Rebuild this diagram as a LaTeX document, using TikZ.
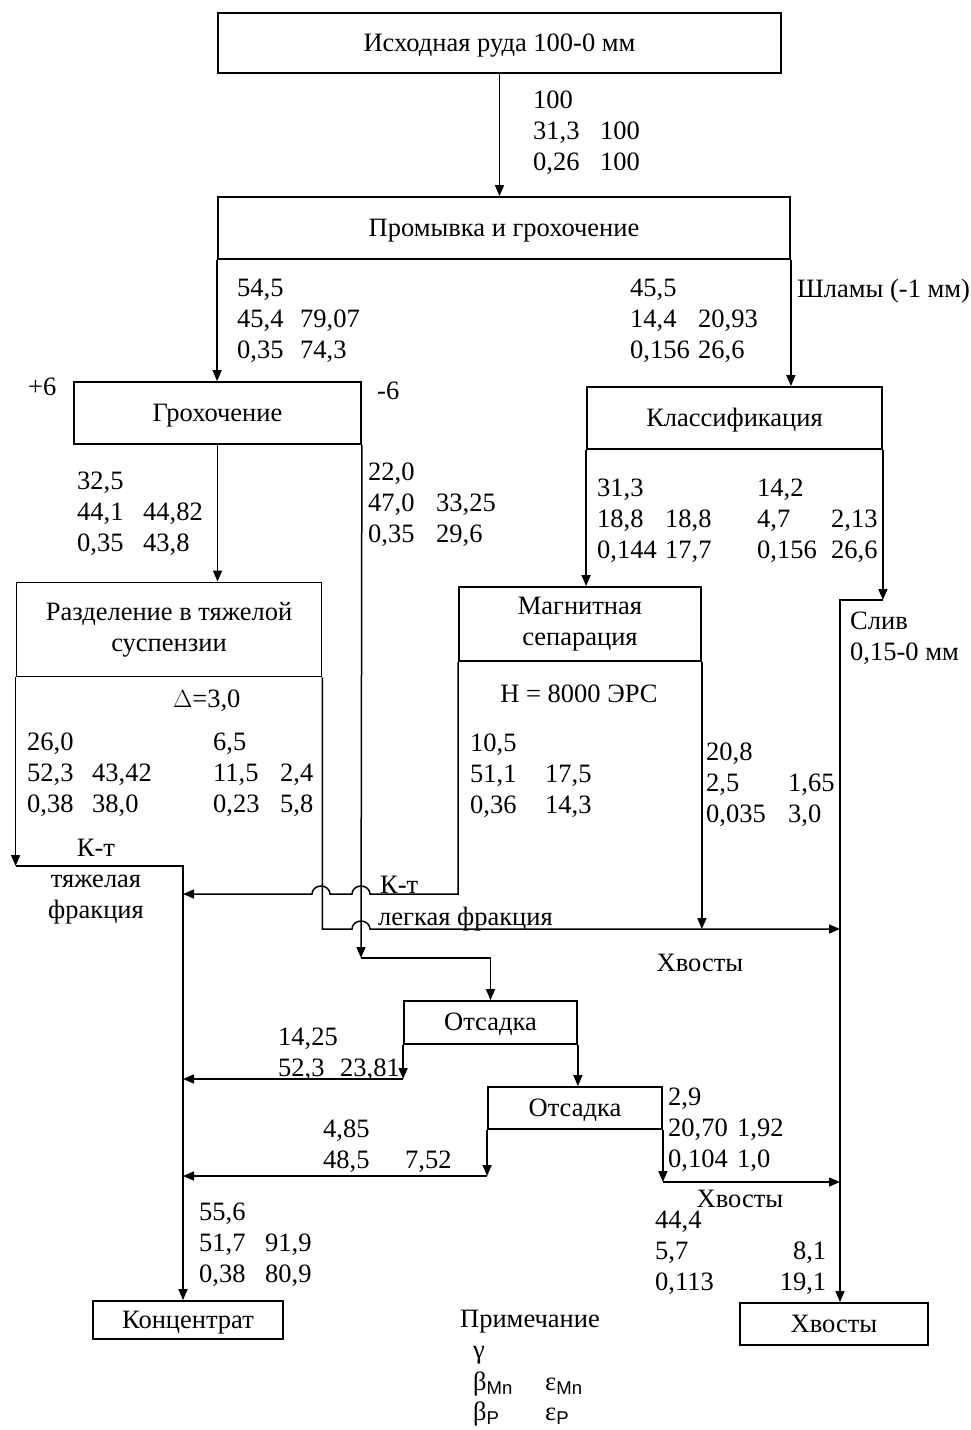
\documentclass[tikz,border=0pt]{standalone}
\usepackage{fontspec}
\setmainfont{Liberation Serif}
\setsansfont{Liberation Sans}
\usetikzlibrary{arrows.meta}

% yield / grade / recovery block: three lines, second column at #1
\newcommand{\flowtab}[6]{#2\\\makebox[#1pt][l]{#3}#4\\\makebox[#1pt][l]{#5}#6}

\tikzset{
  opbox/.style={draw, line width=1.8pt, inner sep=0pt, align=center},
  onerow/.style={text depth=1pt},
  flow/.style={line width=1.5pt},
  numbers/.style={anchor=north west, inner sep=0pt, align=left},
  lbl/.style={anchor=base west, inner sep=0pt},
}

\begin{document}
\begin{tikzpicture}[x=1pt, y=-1pt, font=\fontsize{26.5}{31}\selectfont, >={Triangle[length=11pt,width=9pt]}]
    \useasboundingbox (0,0) rectangle (970,1430);

    % operations
    \node[opbox, onerow, minimum width=563pt, minimum height=60pt] (ore) at (499.5,43) {Исходная руда 100-0 мм};
    \node[opbox, onerow, minimum width=572pt, minimum height=62pt] (wash) at (504,228) {Промывка и грохочение};
    \node[opbox, onerow, minimum width=287pt, minimum height=62pt] (screen) at (217.5,413) {Грохочение};
    \node[opbox, onerow, minimum width=295pt, minimum height=62pt] (class) at (734.5,418) {Классификация};
    \node[opbox, minimum width=305pt, minimum height=94pt] (hms) at (169,629.5) {Разделение в тяжелой\\суспензии};
    \node[opbox, minimum width=242pt, minimum height=74pt] (mag) at (580,624) {Магнитная\\сепарация};
    \node[opbox, onerow, minimum width=173pt, minimum height=43pt] (jigA) at (490.5,1022.5) {Отсадка};
    \node[opbox, onerow, minimum width=174pt, minimum height=42pt] (jigB) at (575,1108) {Отсадка};
    \node[opbox, onerow, minimum width=190pt, minimum height=38pt] (conc) at (188,1320) {Концентрат};
    \node[opbox, onerow, minimum width=188pt, minimum height=42pt] (tails) at (834,1324) {Хвосты};

    \coordinate (trunk) at (183,866);
    \coordinate (tailtrunk) at (840,600);
    \coordinate (jigin) at (361,958);

    % flows
    \draw[flow,->] (ore.south) -- (ore.south |- wash.north);
    \draw[flow,->] (wash.south west) -- (wash.south west |- screen.north);
    \draw[flow,->] (wash.south east) -- (wash.south east |- class.north);
    \draw[flow,->] (screen.south) -- (screen.south |- hms.north);
    \draw[flow,->] (screen.south east) -- (jigin);
    \draw[flow,->] (jigin) -| (jigA.north);
    \draw[flow,->] (class.south west) -- (class.south west |- mag.north);
    \draw[flow,->] (class.south east) -- (class.south east |- tailtrunk);
    \draw[flow,->] (class.south east |- tailtrunk) -- (tailtrunk) -- (tailtrunk |- tails.north);
    \draw[flow,->] (hms.south west) -- (hms.south west |- trunk);
    \draw[flow,->] (hms.south west |- trunk) -- (trunk) -- (trunk |- conc.north);
    \draw[flow,->] (mag.south west) |- (370,894)
        arc[start angle=0, end angle=180, x radius=9pt, y radius=8pt] -- (330,894)
        arc[start angle=0, end angle=180, x radius=9pt, y radius=8pt] -- (trunk |- 0,894);
    \draw[flow,->] (hms.south east) |- (352,929)
        arc[start angle=180, end angle=0, x radius=9pt, y radius=8pt] -- (tailtrunk |- 0,929);
    \draw[flow,->] (mag.south east) -- (mag.south east |- 0,929);
    \draw[flow,->] (jigA.south west) -- (jigA.south west |- 0,1079);
    \draw[flow,->] (jigA.south west |- 0,1079) -- (trunk |- 0,1079);
    \draw[flow,->] (jigA.south east) -- (jigA.south east |- jigB.north);
    \draw[flow,->] (jigB.south west) -- (jigB.south west |- 0,1176);
    \draw[flow,->] (jigB.south west |- 0,1176) -- (trunk |- 0,1176);
    \draw[flow,->] (jigB.south east) -- (jigB.south east |- 0,1182);
    \draw[flow,->] (jigB.south east |- 0,1182) -- (tailtrunk |- 0,1182);

    % balance figures
    \node[numbers] (nFeed) at (533,91) {\flowtab{67}{100}{31,3}{100}{0,26}{100}};
    \node[numbers] (nOver) at (237,279) {\flowtab{63}{54,5}{45,4}{79,07}{0,35}{74,3}};
    \node[numbers] (nSlime) at (630,279) {\flowtab{68}{45,5}{14,4}{20,93}{0,156}{26,6}};
    \node[numbers] (nScrA) at (77,472) {\flowtab{66}{32,5}{44,1}{44,82}{0,35}{43,8}};
    \node[numbers] (nScrB) at (368,463) {\flowtab{68}{22,0}{47,0}{33,25}{0,35}{29,6}};
    \node[numbers] (nClsA) at (597,479) {\flowtab{68}{31,3}{18,8}{18,8}{0,144}{17,7}};
    \node[numbers] (nClsB) at (757,479) {\flowtab{74}{14,2}{4,7}{2,13}{0,156}{26,6}};
    \node[numbers] (nHmsA) at (27,733) {\flowtab{65}{26,0}{52,3}{43,42}{0,38}{38,0}};
    \node[numbers] (nHmsB) at (213,733) {\flowtab{67}{6,5}{11,5}{2,4}{0,23}{5,8}};
    \node[numbers] (nMagA) at (470,734) {\flowtab{75}{10,5}{51,1}{17,5}{0,36}{14,3}};
    \node[numbers] (nMagB) at (706,743) {\flowtab{82}{20,8}{2,5}{1,65}{0,035}{3,0}};
    \node[numbers] (nJigA) at (278,1028) {14,25\\\makebox[62pt][l]{52,3}23,81};
    \node[numbers] (nJigB) at (323,1120) {4,85\\\makebox[82pt][l]{48,5}7,52};
    \node[numbers] (nJigC) at (668,1088) {\flowtab{69}{2,9}{20,70}{1,92}{0,104}{1,0}};
    \node[numbers] (nConc) at (199,1203) {\flowtab{66}{55,6}{51,7}{91,9}{0,38}{80,9}};
    \node[numbers] (nTail) at (655,1211) {44,4\\\makebox[171pt]{5,7\hfill 8,1}\\\makebox[171pt]{0,113\hfill 19,1}};

    % product labels
    \node[lbl] (plus) at (28,395) {+6};
    \node[lbl] (minus) at (377,399) {-6};
    \node[lbl] (slimes) at (797,297) {Шламы (-1 мм)};
    \node[numbers] (overflow) at (850,612) {Слив\\0,15-0 мм};
    \node[lbl] (delta) at (173,707) {$\Delta$=3,0};
    \node[lbl, anchor=base] (field) at (579,702) {H = 8000 ЭРС};
    \node[inner sep=0pt, anchor=north, align=center] (heavy) at (96,839) {К-т\\тяжелая\\фракция};
    \node[lbl] (magconc) at (380,893) {К-т};
    \node[lbl] (light) at (378,925) {легкая фракция};
    \node[lbl, anchor=base] (tailA) at (700,971) {Хвосты};
    \node[lbl, anchor=base] (tailB) at (740,1207) {Хвосты};

    % legend
    \node[lbl, anchor=base] (note) at (530,1327) {Примечание};
    \node[lbl] (gam) at (473,1358) {γ};
    \node[lbl] (betaMn) at (473,1390) {β\textsubscript{\sffamily Mn}};
    \node[lbl] (epsMn) at (545,1390) {ε\textsubscript{\sffamily Mn}};
    \node[lbl] (betaP) at (473,1420) {β\textsubscript{\sffamily P}};
    \node[lbl] (epsP) at (545,1420) {ε\textsubscript{\sffamily P}};
\end{tikzpicture}
\end{document}
